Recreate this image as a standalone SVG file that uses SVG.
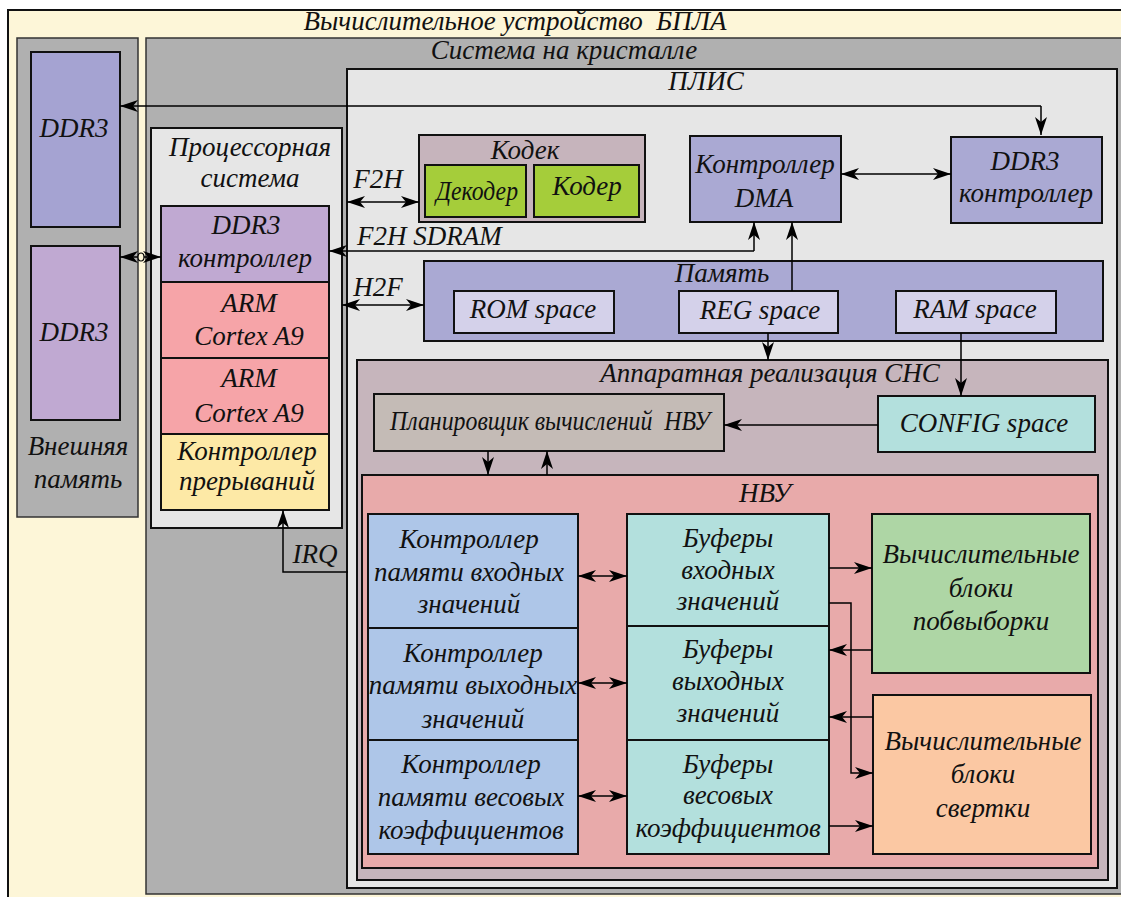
<svg xmlns="http://www.w3.org/2000/svg" width="1121" height="897" viewBox="0 0 1121 897">
<defs>
<marker id="ah" viewBox="0 0 18 12" markerWidth="18" markerHeight="12" refX="18" refY="6" orient="auto-start-reverse" markerUnits="userSpaceOnUse">
<path d="M0,0 L18,6 L0,12 L5,6 z" fill="#000"/>
</marker>
</defs>
<style>
.t{font-family:"Liberation Serif","Times New Roman",serif;font-style:italic;font-size:27px;fill:#111;text-anchor:middle}
.b{stroke:#111;stroke-width:2}
.c{stroke:#333;stroke-width:1.5}
.ln{fill:none;stroke:#000;stroke-width:1.5}
.a{marker-end:url(#ah)}
.d{marker-start:url(#ah);marker-end:url(#ah)}
</style>
<rect width="1121" height="897" fill="#fff"/>
<g id="device">
<rect x="8" y="10" width="1120" height="900" fill="#fdf6d8" stroke="#111" stroke-width="2"/>
<text class="t" x="515" y="30">Вычислительное устройство &#160;БПЛА</text>
</g>
<g id="ext-mem">
<rect x="17" y="38" width="121" height="479" fill="#b0b0b0" class="c"/>
<text class="t" x="78" y="455">Внешняя</text>
<text class="t" x="78" y="488">память</text>
</g>
<g id="ddr3-ext1">
<rect x="31" y="52" width="89" height="175" fill="#a5a3d2" class="b"/>
<text class="t" x="74" y="137">DDR3</text>
</g>
<g id="ddr3-ext2">
<rect x="31" y="246" width="89" height="174" fill="#c0a9d2" class="b"/>
<text class="t" x="74" y="341">DDR3</text>
</g>
<g id="soc">
<rect x="146" y="38" width="990" height="856" fill="#b0b0b0" class="c"/>
<text class="t" x="564" y="59">Система на кристалле</text>
</g>
<g id="proc">
<rect x="151" y="128" width="191" height="400" fill="#e6e6e6" class="b"/>
<text class="t" x="250" y="156">Процессорная</text>
<text class="t" x="250" y="187">система</text>
</g>
<g id="ddr3-ctrl-hps">
<rect x="161" y="206" width="168" height="76" fill="#c0a9d2" class="b"/>
<text class="t" x="246" y="234">DDR3</text>
<text class="t" x="245" y="267">контроллер</text>
</g>
<g id="arm1">
<rect x="161" y="282" width="168" height="76" fill="#f6a4a8" class="b"/>
<text class="t" x="249" y="312">ARM</text>
<text class="t" x="249" y="345">Cortex A9</text>
</g>
<g id="arm2">
<rect x="161" y="358" width="168" height="76" fill="#f6a4a8" class="b"/>
<text class="t" x="249" y="387">ARM</text>
<text class="t" x="249" y="422">Cortex A9</text>
</g>
<g id="irq-ctrl">
<rect x="161" y="434" width="168" height="76" fill="#fde9a6" class="b"/>
<text class="t" x="247" y="460">Контроллер</text>
<text class="t" x="247" y="490">прерываний</text>
</g>
<g id="fpga">
<rect x="347" y="69" width="770" height="819" fill="#e6e6e6" class="b"/>
<text class="t" x="706" y="90">ПЛИС</text>
</g>
<g id="codec">
<rect x="419" y="135" width="226" height="87" fill="#c6b4bc" class="b"/>
<text class="t" x="525" y="159">Кодек</text>
</g>
<g id="decoder">
<rect x="425" y="165" width="101" height="52" fill="#a5cd3a" class="b"/>
<text class="t" x="477" y="200" textLength="82" lengthAdjust="spacingAndGlyphs">Декодер</text>
</g>
<g id="encoder">
<rect x="534" y="165" width="105" height="52" fill="#a5cd3a" class="b"/>
<text class="t" x="587" y="195">Кодер</text>
</g>
<g id="dma">
<rect x="690" y="136" width="151" height="86" fill="#aaa9d3" class="b"/>
<text class="t" x="765" y="173">Контроллер</text>
<text class="t" x="764" y="207">DMA</text>
</g>
<g id="ddr3-ctrl-fpga">
<rect x="951" y="137" width="151" height="86" fill="#aaa9d3" class="b"/>
<text class="t" x="1025" y="170">DDR3</text>
<text class="t" x="1026" y="202">контроллер</text>
</g>
<g id="memory">
<rect x="424" y="261" width="679" height="80" fill="#aaa9d3" class="b"/>
<text class="t" x="722" y="282">Память</text>
</g>
<g id="rom">
<rect x="454" y="291" width="160" height="42" fill="#d4d1ea" class="b"/>
<text class="t" x="533" y="318">ROM space</text>
</g>
<g id="reg">
<rect x="679" y="291" width="159" height="42" fill="#d4d1ea" class="b"/>
<text class="t" x="760" y="319">REG space</text>
</g>
<g id="ram">
<rect x="896" y="291" width="160" height="42" fill="#d4d1ea" class="b"/>
<text class="t" x="975" y="318">RAM space</text>
</g>
<g id="snn">
<rect x="357" y="360" width="751" height="520" fill="#c6b5bc" class="b"/>
<text class="t" x="770" y="382">Аппаратная реализация СНС</text>
</g>
<g id="scheduler">
<rect x="374" y="394" width="350" height="57" fill="#c4bbb6" class="b"/>
<text class="t" x="550" y="430" textLength="320" lengthAdjust="spacingAndGlyphs">Планировщик вычислений &#160;НВУ</text>
</g>
<g id="config">
<rect x="878" y="396" width="217" height="56" fill="#b3e0dd" class="b"/>
<text class="t" x="984" y="432">CONFIG space</text>
</g>
<g id="nvu">
<rect x="362" y="475" width="736" height="393" fill="#e8aaaa" class="b"/>
<text class="t" x="765" y="502">НВУ</text>
</g>
<g id="ctrl-in">
<rect x="368" y="514" width="210" height="114" fill="#aec6e8" class="b"/>
<text class="t" x="469" y="548">Контроллер</text>
<text class="t" x="469" y="581">памяти входных</text>
<text class="t" x="469" y="613">значений</text>
</g>
<g id="ctrl-out">
<rect x="368" y="628" width="210" height="112" fill="#aec6e8" class="b"/>
<text class="t" x="473" y="662">Контроллер</text>
<text class="t" x="473" y="694">памяти выходных</text>
<text class="t" x="473" y="728">значений</text>
</g>
<g id="ctrl-w">
<rect x="368" y="740" width="210" height="114" fill="#aec6e8" class="b"/>
<text class="t" x="471" y="773">Контроллер</text>
<text class="t" x="471" y="806">памяти весовых</text>
<text class="t" x="471" y="839">коэффициентов</text>
</g>
<g id="buf-in">
<rect x="627" y="514" width="202" height="112" fill="#b3e0dd" class="b"/>
<text class="t" x="728" y="547">Буферы</text>
<text class="t" x="728" y="579">входных</text>
<text class="t" x="728" y="610">значений</text>
</g>
<g id="buf-out">
<rect x="627" y="626" width="202" height="114" fill="#b3e0dd" class="b"/>
<text class="t" x="728" y="658">Буферы</text>
<text class="t" x="728" y="690">выходных</text>
<text class="t" x="728" y="722">значений</text>
</g>
<g id="buf-w">
<rect x="627" y="740" width="202" height="114" fill="#b3e0dd" class="b"/>
<text class="t" x="728" y="773">Буферы</text>
<text class="t" x="728" y="804">весовых</text>
<text class="t" x="728" y="837">коэффициентов</text>
</g>
<g id="pool">
<rect x="872" y="514" width="218" height="159" fill="#aed6a5" class="b"/>
<text class="t" x="981" y="563">Вычислительные</text>
<text class="t" x="981" y="597">блоки</text>
<text class="t" x="981" y="630">побвыборки</text>
</g>
<g id="conv">
<rect x="873" y="695" width="218" height="159" fill="#fbc8a3" class="b"/>
<text class="t" x="983" y="750">Вычислительные</text>
<text class="t" x="983" y="783">блоки</text>
<text class="t" x="983" y="817">свертки</text>
</g>
<g id="connectors">
<polyline class="ln a" points="1041,106 1041,135"/>
<polyline class="ln a" points="1041,106 120,106"/>
<line class="ln d" x1="120" y1="257" x2="161" y2="257"/>
<ellipse cx="141" cy="257" rx="3" ry="4" fill="#fdf6d8" stroke="#000" stroke-width="1.2"/>
<line class="ln d" x1="347" y1="202" x2="419" y2="202"/>
<text class="t" x="378" y="188">F2H</text>
<polyline class="ln a" points="754,251 754,222"/>
<polyline class="ln a" points="754,251 329,251"/>
<text class="t" x="357" y="245" style="text-anchor:start">F2H SDRAM</text>
<line class="ln d" x1="342" y1="305" x2="424" y2="305"/>
<text class="t" x="378" y="296">H2F</text>
<line class="ln d" x1="841" y1="174" x2="951" y2="174"/>
<line class="ln a" x1="792" y1="291" x2="792" y2="222"/>
<line class="ln a" x1="768" y1="333" x2="768" y2="360"/>
<line class="ln a" x1="961" y1="333" x2="961" y2="396"/>
<line class="ln a" x1="878" y1="425" x2="724" y2="425"/>
<line class="ln a" x1="488" y1="451" x2="488" y2="475"/>
<line class="ln a" x1="547" y1="475" x2="547" y2="451"/>
<polyline class="ln a" points="348,572 283,572 283,510"/>
<text class="t" x="315" y="563">IRQ</text>
<line class="ln d" x1="578" y1="576" x2="627" y2="576"/>
<line class="ln d" x1="578" y1="683" x2="627" y2="683"/>
<line class="ln d" x1="578" y1="796" x2="627" y2="796"/>
<line class="ln a" x1="829" y1="568" x2="872" y2="568"/>
<polyline class="ln a" points="829,603 851,603 851,773 873,773"/>
<line class="ln a" x1="872" y1="650" x2="829" y2="650"/>
<line class="ln a" x1="873" y1="717" x2="829" y2="717"/>
<line class="ln a" x1="829" y1="826" x2="873" y2="826"/>
</g>
</svg>
